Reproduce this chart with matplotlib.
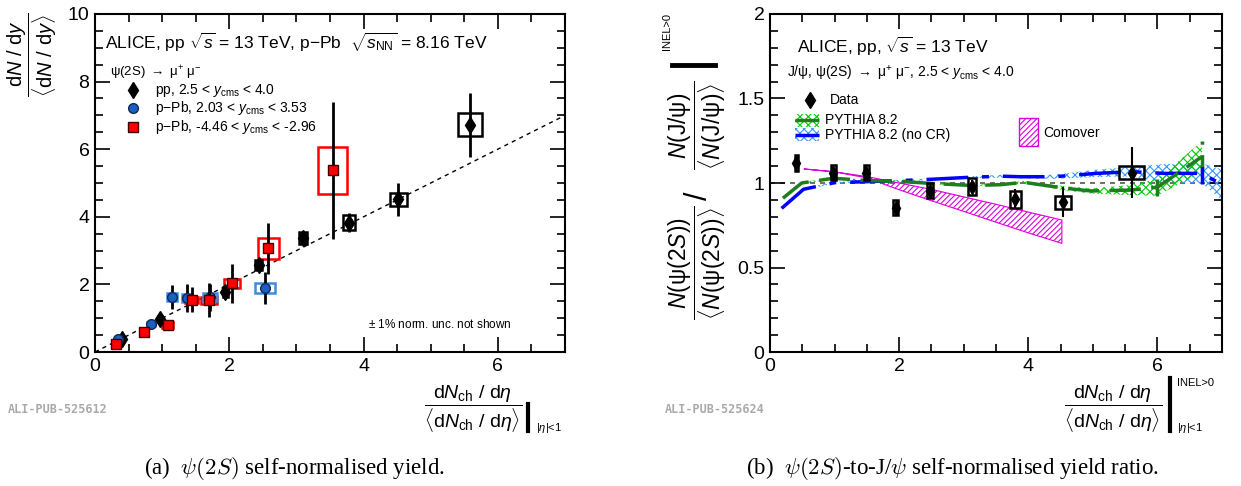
import numpy as np
import matplotlib
matplotlib.use("Agg")
import matplotlib.pyplot as plt
from matplotlib.patches import Rectangle
from matplotlib.lines import Line2D
from matplotlib.ticker import FuncFormatter

plt.rcParams['font.family'] = ['Liberation Sans', 'DejaVu Sans']
plt.rcParams['mathtext.fontset'] = 'custom'
plt.rcParams['mathtext.rm'] = 'Liberation Sans'
plt.rcParams['mathtext.it'] = 'Liberation Sans:italic'
plt.rcParams['mathtext.bf'] = 'Liberation Sans:bold'
plt.rcParams['hatch.linewidth'] = 0.8

# ---- panel (a): psi(2S) self-normalised yield ----
pp_x = [0.40, 0.97, 1.94, 2.44, 3.10, 3.78, 4.52, 5.59]
pp_y = [0.39, 0.98, 1.77, 2.57, 3.38, 3.83, 4.52, 6.72]
pp_stat = [0.04, 0.08, 0.12, 0.13, 0.15, 0.27, 0.49, 0.95]
pp_sx = [0.03, 0.03, 0.04, 0.05, 0.06, 0.09, 0.12, 0.18]
pp_sy = [0.04, 0.08, 0.15, 0.15, 0.18, 0.21, 0.19, 0.34]

fw_x = [0.34, 0.84, 1.14, 1.37, 1.71, 2.53]
fw_y = [0.37, 0.82, 1.62, 1.59, 1.62, 1.90]
fw_stat = [0.05, 0.12, 0.36, 0.42, 0.40, 0.48]
fw_sx = [0.04, 0.06, 0.075, 0.08, 0.10, 0.15]
fw_sy = [0.03, 0.06, 0.12, 0.12, 0.12, 0.15]

bw_x = [0.32, 0.73, 1.08, 1.44, 1.70, 2.04, 2.58, 3.54]
bw_y = [0.23, 0.60, 0.80, 1.54, 1.53, 2.03, 3.07, 5.37]
bw_stat = [0.05, 0.12, 0.15, 0.37, 0.50, 0.57, 0.76, 2.04]
bw_sx = [0.04, 0.06, 0.08, 0.10, 0.12, 0.12, 0.155, 0.22]
bw_sy = [0.04, 0.06, 0.08, 0.10, 0.10, 0.14, 0.31, 0.70]

# ---- panel (b): psi(2S)/J/psi ratio ----
r_x = [0.41, 0.98, 1.49, 1.95, 2.48, 3.13, 3.80, 4.54, 5.60]
r_y = [1.12, 1.06, 1.06, 0.854, 0.955, 0.978, 0.905, 0.886, 1.061]
r_stat = [0.03, 0.03, 0.03, 0.03, 0.03, 0.04, 0.06, 0.09, 0.15]
r_sx = [0.03, 0.04, 0.04, 0.04, 0.05, 0.06, 0.08, 0.12, 0.19]
r_sy = [0.047, 0.045, 0.045, 0.044, 0.045, 0.05, 0.05, 0.04, 0.04]

py_x = [0.2, 0.49, 0.98, 1.49, 2.07, 2.48, 3.13, 3.57, 3.93, 4.55, 4.96, 5.58, 6.0, 6.69]
py_y = [0.91, 1.0, 1.028, 1.015, 1.008, 0.998, 0.985, 0.99, 1.004, 0.97, 0.953, 0.958, 0.975, 1.156]
py_e = [0.005, 0.005, 0.005, 0.005, 0.005, 0.005, 0.005, 0.006, 0.008, 0.012, 0.015, 0.03, 0.05, 0.09]

nocr_x = [0.18, 0.52, 1.0, 1.5, 2.0, 2.5, 3.1, 3.6, 3.9, 4.4, 5.06, 5.6, 6.1, 6.69, 7.0]
nocr_y = [0.85, 0.963, 1.002, 1.008, 1.014, 1.022, 1.034, 1.04, 1.037, 1.037, 1.057, 1.067, 1.057, 1.057, 0.99]
nocr_e = [0.005, 0.005, 0.005, 0.005, 0.005, 0.005, 0.006, 0.008, 0.01, 0.012, 0.022, 0.028, 0.055, 0.06, 0.09]

com_x = [0.53, 1.0, 1.5, 2.0, 2.5, 3.0, 3.5, 4.0, 4.52]
com_hi = [1.083, 1.066, 1.038, 1.0, 0.962, 0.918, 0.874, 0.828, 0.781]
com_lo = [1.083, 1.066, 1.030, 0.960, 0.895, 0.832, 0.768, 0.705, 0.643]

BLUE = '#1a5fc4'
BOXBLUE = '#3d8ae0'
RED = '#ff0000'
GREEN = '#1e7d1e'

fig = plt.figure(figsize=(12.41, 4.86), dpi=100)
axL = fig.add_axes([95/1241, 1-352/486, 470/1241, 338/486])
axR = fig.add_axes([770/1241, 1-352/486, 452/1241, 338/486])


def boxes(ax, xs, ys, sx, sy, color, lw=1.8):
    for x, y, dx, dy in zip(xs, ys, sx, sy):
        ax.add_patch(Rectangle((x - dx, y - dy), 2*dx, 2*dy, fill=False,
                               edgecolor=color, linewidth=lw, zorder=3))


def style(ax, xmaj, ymaj, ymin):
    ax.set_xlim(0, 7)
    ax.xaxis.set_major_locator(plt.MultipleLocator(xmaj))
    ax.xaxis.set_minor_locator(plt.MultipleLocator(0.5))
    ax.yaxis.set_major_locator(plt.MultipleLocator(ymaj))
    ax.yaxis.set_minor_locator(plt.MultipleLocator(ymin))
    ax.xaxis.set_major_formatter(FuncFormatter(lambda v, p: '%g' % v))
    ax.yaxis.set_major_formatter(FuncFormatter(lambda v, p: '%g' % v))
    ax.tick_params(which='both', direction='in', top=True, right=True,
                   labelsize=14, width=1.2, pad=4)
    ax.tick_params(which='major', length=11)
    ax.tick_params(which='minor', length=6)
    for s in ax.spines.values():
        s.set_linewidth(1.5)


# left panel
axL.plot([0, 7], [0, 7], color='black', lw=1, dashes=(3, 3), zorder=1)
boxes(axL, bw_x, bw_y, bw_sx, bw_sy, RED)
boxes(axL, fw_x, fw_y, fw_sx, fw_sy, BOXBLUE)
boxes(axL, pp_x, pp_y, pp_sx, pp_sy, 'black')
axL.errorbar(pp_x, pp_y, yerr=pp_stat, fmt='d', color='black', ms=8, elinewidth=2, capsize=0, zorder=4)
axL.errorbar(fw_x, fw_y, yerr=fw_stat, fmt='o', color='black', mfc=BLUE, mec='#102a50', ms=7,
             elinewidth=2, capsize=0, zorder=5)
axL.errorbar(bw_x, bw_y, yerr=bw_stat, fmt='s', color='black', mfc=RED, mec='#400000', ms=7,
             elinewidth=2, capsize=0, zorder=6)
axL.set_ylim(0, 10)
style(axL, 2, 2, 0.5)

axL.text(0.021, 0.915, r'ALICE, pp $\sqrt{s}$ = 13 TeV, p$-$Pb  $\sqrt{s_{\mathrm{NN}}}$ = 8.16 TeV',
         transform=axL.transAxes, fontsize=12.5, va='center')
axL.text(0.032, 0.825, r'$\mathrm{\psi}$(2S) $\rightarrow$ $\mathrm{\mu}^{+}$ $\mathrm{\mu}^{-}$',
         transform=axL.transAxes, fontsize=9.5, va='center')
leg_y = [0.775, 0.722, 0.666]
leg_lbl = [r'pp, 2.5 < $y_{\mathrm{cms}}$ < 4.0', r'p$-$Pb, 2.03 < $y_{\mathrm{cms}}$ < 3.53',
           r'p$-$Pb, -4.46 < $y_{\mathrm{cms}}$ < -2.96']
axL.plot([0.081], [leg_y[0]], 'd', color='black', ms=8, transform=axL.transAxes)
axL.plot([0.081], [leg_y[1]], 'o', mfc=BLUE, mec='#102a50', ms=7, transform=axL.transAxes)
axL.plot([0.081], [leg_y[2]], 's', mfc=RED, mec='#400000', ms=7, transform=axL.transAxes)
for yy, lbl in zip(leg_y, leg_lbl):
    axL.text(0.128, yy, lbl, transform=axL.transAxes, fontsize=10, va='center')
axL.text(0.887, 0.08, r'$\pm$ 1% norm. unc. not shown', transform=axL.transAxes,
         fontsize=8.5, ha='right', va='center')

# right panel
axR.axhline(1, color='#555555', lw=1.2, dashes=(3, 3), zorder=1)
py_x, py_y, py_e = map(np.array, (py_x, py_y, py_e))
nocr_x, nocr_y, nocr_e = map(np.array, (nocr_x, nocr_y, nocr_e))
axR.fill_between(nocr_x, nocr_y - nocr_e, nocr_y + nocr_e, facecolor='none', edgecolor='#3399ff',
                 hatch='xxxx', linewidth=0, zorder=2)
axR.fill_between(py_x, py_y - py_e, py_y + py_e, facecolor='none', edgecolor='#00cc00',
                 hatch='xxxx', linewidth=0, zorder=2)
axR.fill_between(com_x, com_lo, com_hi, facecolor='none', edgecolor='#dd00dd',
                 hatch='//////', linewidth=0.8, zorder=2)
axR.plot(nocr_x, nocr_y, color='#0000ff', lw=2.5, dashes=(12, 4, 2, 4), zorder=3)
axR.plot(py_x, py_y, color=GREEN, lw=2.5, dashes=(9, 3), zorder=3)
axR.vlines(py_x[-2:], (py_y - py_e)[-2:], (py_y + py_e)[-2:], color=GREEN, lw=2.5,
           linestyles=(0, (5, 3)), zorder=3)
axR.vlines(nocr_x[-2:-1], (nocr_y - nocr_e)[-2:-1], (nocr_y + nocr_e)[-2:-1], color='#0000ff',
           lw=2.5, linestyles=(0, (5, 3)), zorder=3)
boxes(axR, r_x, r_y, r_sx, r_sy, 'black', lw=1.8)
axR.errorbar(r_x, r_y, yerr=r_stat, fmt='d', color='black', ms=7, elinewidth=1.5, capsize=0, zorder=5)
axR.set_ylim(0, 2)
style(axR, 2, 0.5, 0.1)

axR.text(0.06, 0.905, r'ALICE, pp, $\sqrt{s}$ = 13 TeV', transform=axR.transAxes, fontsize=12.5,
         va='center')
axR.text(0.038, 0.825, r'J/$\mathrm{\psi}$, $\mathrm{\psi}$(2S) $\rightarrow$ $\mathrm{\mu}^{+}$ '
         r'$\mathrm{\mu}^{-}$, 2.5 < $y_{\mathrm{cms}}$ < 4.0',
         transform=axR.transAxes, fontsize=10, va='center')
axR.plot([0.088], [0.746], 'd', color='black', ms=8, transform=axR.transAxes)
axR.text(0.133, 0.746, 'Data', transform=axR.transAxes, fontsize=10, va='center')
axR.add_patch(Rectangle((0.055, 0.666), 0.053, 0.038, transform=axR.transAxes, facecolor='none',
                        edgecolor='#00cc00', hatch='xxxx', linewidth=0))
axR.plot([0.055, 0.108], [0.685, 0.685], color=GREEN, lw=2.5, dashes=(9, 3), transform=axR.transAxes)
axR.text(0.122, 0.685, 'PYTHIA 8.2', transform=axR.transAxes, fontsize=10, va='center')
axR.add_patch(Rectangle((0.055, 0.624), 0.053, 0.038, transform=axR.transAxes, facecolor='none',
                        edgecolor='#3399ff', hatch='xxxx', linewidth=0))
axR.plot([0.055, 0.108], [0.643, 0.643], color='#0000ff', lw=2.5, dashes=(12, 4, 2, 4),
         transform=axR.transAxes)
axR.text(0.122, 0.643, 'PYTHIA 8.2 (no CR)', transform=axR.transAxes, fontsize=10, va='center')
axR.add_patch(Rectangle((0.550, 0.609), 0.044, 0.083, transform=axR.transAxes, facecolor='none',
                        edgecolor='#dd00dd', hatch='//////', linewidth=1))
axR.text(0.604, 0.648, 'Comover', transform=axR.transAxes, fontsize=10, va='center')

# axis titles
W, H = 1241, 486
xfrac = (r'$\dfrac{\mathrm{d}\mathit{N}_{\mathrm{ch}}\ /\ \mathrm{d}\eta}'
         r'{\langle\mathrm{d}\mathit{N}_{\mathrm{ch}}\ /\ \mathrm{d}\eta\rangle}$')
fig.text(473/W, 1-409/H, xfrac, fontsize=14, ha='center', va='center')
fig.add_artist(Line2D([528/W, 528/W], [1-404/H, 1-431/H], color='black', lw=3))
fig.text(536/W, 1-428/H, r'$|\eta|$<1', fontsize=8, va='center')
fig.text(1113/W, 1-409/H, xfrac, fontsize=14, ha='center', va='center')
fig.add_artist(Line2D([1170/W, 1170/W], [1-378/H, 1-431/H], color='black', lw=3))
fig.text(1177/W, 1-383/H, 'INEL>0', fontsize=8, va='center')
fig.text(1177/W, 1-428/H, r'$|\eta|$<1', fontsize=8, va='center')

fig.text(32/W, 1-55/H, r'$\dfrac{\mathrm{d}N\ /\ \mathrm{d}y}{\langle\mathrm{d}N\ /\ \mathrm{d}y\rangle}$',
         fontsize=14.5, rotation=90, ha='center', va='center')
fig.text(697/W, 1-263/H, r'$\dfrac{N(\mathrm{\psi}(2S))}{\langle N(\mathrm{\psi}(2S))\rangle}$',
         fontsize=16.5, rotation=90, ha='center', va='center')
fig.text(699/W, 1-196/H, '/', fontsize=22, rotation=90, ha='center', va='center')
fig.text(697/W, 1-125/H, r'$\dfrac{N(\mathrm{J}/\mathrm{\psi})}{\langle N(\mathrm{J}/\mathrm{\psi})\rangle}$',
         fontsize=16.5, rotation=90, ha='center', va='center')
fig.add_artist(Line2D([672/W, 715/W], [1-65/H, 1-65/H], color='black', lw=3.5))
fig.text(667/W, 1-32/H, 'INEL>0', fontsize=8, rotation=90, ha='center', va='center')

# pub ids and captions
fig.text(8/W, 1-409/H, 'ALI-PUB-525612', family='DejaVu Sans Mono', fontsize=8.5, color='#aaaaaa',
         weight='bold', va='center')
fig.text(665/W, 1-409/H, 'ALI-PUB-525624', family='DejaVu Sans Mono', fontsize=8.5, color='#aaaaaa',
         weight='bold', va='center')
fig.text(294/W, 1-468/H, r'(a)  $\psi(2S)$ self-normalised yield.', family='Liberation Serif',
         math_fontfamily='cm', fontsize=16.5, ha='center', va='center')
fig.text(952/W, 1-468/H, r'(b)  $\psi(2S)$-to-J/$\psi$ self-normalised yield ratio.',
         family='Liberation Serif', math_fontfamily='cm', fontsize=16.5, ha='center', va='center')

fig.savefig('out.png', dpi=100)
